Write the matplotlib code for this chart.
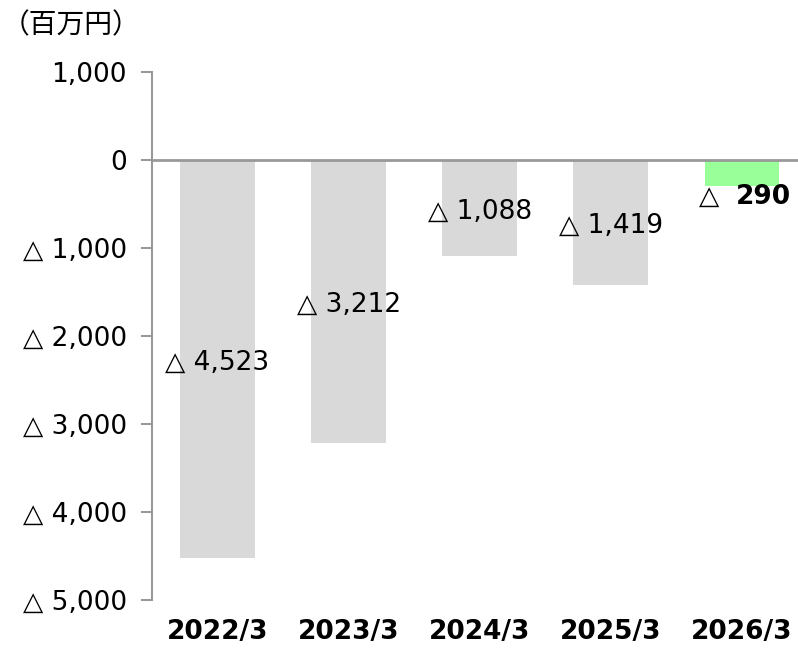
import matplotlib.pyplot as plt
from matplotlib.ticker import FuncFormatter

years = ["2022/3", "2023/3", "2024/3", "2025/3", "2026/3"]
values = [-4523, -3212, -1088, -1419, -290]
colors = ["#d9d9d9", "#d9d9d9", "#d9d9d9", "#d9d9d9", "#99ff99"]
yticks = [1000, 0, -1000, -2000, -3000, -4000, -5000]

plt.rcParams["font.family"] = ["DejaVu Sans", "Noto Sans CJK JP"]
FS = 19


def fmt(v, pos=None):
    if v < 0:
        return f"△ {abs(v):,.0f}"
    return f"{v:,.0f}"


fig = plt.figure(figsize=(7.98, 6.48), dpi=100)
ax = fig.add_axes([152 / 798, 48 / 648, 655.5 / 798, 528 / 648])

x = range(len(years))
ax.bar(x, values, width=0.57, color=colors, zorder=2)
ax.axhline(0, color="#999999", lw=2, zorder=3, clip_on=False)

for i, v in enumerate(values):
    if i < 4:
        ax.text(i, v / 2 - 40, fmt(v), ha="center", va="center", fontsize=FS, zorder=4)
    else:
        ax.text(i - 0.11, v - 130, "△ ", ha="right", va="center", fontsize=FS, zorder=4)
        ax.text(i - 0.05, v - 130, f"{abs(v):,}", ha="left", va="center", fontsize=FS,
                fontweight="bold", zorder=4)

ax.set_xlim(-0.5, 4.5)
ax.set_ylim(-5000, 1000)
ax.set_yticks(yticks)
ax.yaxis.set_major_formatter(FuncFormatter(fmt))
ax.set_xticks(list(x))
ax.set_xticklabels(years, fontsize=FS, fontweight="bold")
ax.tick_params(axis="x", length=0, pad=14)
ax.tick_params(axis="y", length=8, width=1.5, color="#999999", labelsize=FS, pad=10)
for s in ["top", "right", "bottom"]:
    ax.spines[s].set_visible(False)
ax.spines["left"].set_color("#999999")
ax.spines["left"].set_linewidth(1.5)

fig.text(2 / 798, 1 - 25 / 648, "（百万円）", fontsize=20, va="center", ha="left",
         family=["Noto Sans CJK JP", "DejaVu Sans"])

fig.savefig("out.png", dpi=100)
